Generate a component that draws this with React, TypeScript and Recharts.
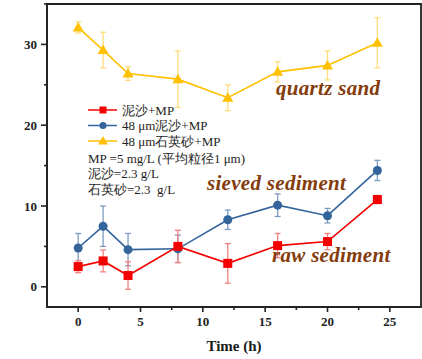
import React from 'react';
import { ComposedChart, Line, XAxis, YAxis, ErrorBar, ReferenceArea } from 'recharts';

const times = [0, 2, 4, 8, 12, 16, 20, 24];
const rawValues = [2.5, 3.2, 1.4, 5.0, 2.9, 5.1, 5.6, 10.8];
const rawErrors = [0.75, 1.35, 1.7, 2.0, 2.45, 1.5, 1.0, 0.5];
const sievedValues = [4.8, 7.5, 4.6, 4.7, 8.3, 10.1, 8.8, 14.4];
const sievedErrors = [1.8, 2.5, 2.0, 1.7, 1.2, 1.4, 0.9, 1.25];
const quartzValues = [32.1, 29.3, 26.4, 25.7, 23.4, 26.6, 27.4, 30.2];
const quartzErrors = [0.7, 2.2, 0.85, 3.5, 1.6, 1.25, 1.8, 3.1];

const xDomain = [-2.5, 27.5];
const yDomain = [-2.5, 35];
const xMajorTicks = [0, 5, 10, 15, 20, 25];
const xMinorTicks = [2.5, 7.5, 12.5, 17.5, 22.5];
const yMajorTicks = [0, 10, 20, 30];
const yMinorTicks = [5, 15, 25, 35];

const seriesNames = ['泥沙+MP', '48 μm泥沙+MP', '48 μm石英砂+MP'];
const noteLines = ['MP =5 mg/L (平均粒径1 μm)', '泥沙=2.3 g/L', '石英砂=2.3  g/L'];
const annotations = ['quartz sand', 'sieved sediment', 'raw sediment'];

const build = (vals: number[], errs: number[]) =>
  times.map((t, i) => ({ x: t, y: vals[i], e: errs[i] }));
const rawData = build(rawValues, rawErrors);
const sievedData = build(sievedValues, sievedErrors);
const quartzData = build(quartzValues, quartzErrors);

const RED = '#f40000';
const BLUE = '#33659c';
const YELLOW = '#ffc000';
const BROWN = '#843c0c';
const AXIS = '#222';
const FONT = '"Liberation Serif", "Times New Roman", serif';

const TICK_SIZE = 5;
const TICK_MARGIN = 3;

const XTick = (props: any) => {
  const { x, y, payload } = props;
  const axisY = y - TICK_SIZE - TICK_MARGIN;
  const major = xMajorTicks.includes(payload.value);
  return (
    <g>
      <line x1={x} x2={x} y1={axisY} y2={axisY + (major ? 5 : 3)} stroke={AXIS} strokeWidth={1.6} />
      {major && (
        <text x={x} y={axisY + 19} textAnchor="middle" fontFamily={FONT} fontWeight="bold" fontSize={13} fill="#222">
          {payload.value}
        </text>
      )}
    </g>
  );
};

const YTick = (props: any) => {
  const { x, y, payload } = props;
  const axisX = x + TICK_SIZE + TICK_MARGIN;
  const major = yMajorTicks.includes(payload.value);
  return (
    <g>
      <line x1={axisX} x2={axisX - (major ? 6 : 3)} y1={y} y2={y} stroke={AXIS} strokeWidth={1.6} />
      {major && (
        <text x={axisX - 10} y={y + 4.5} textAnchor="end" fontFamily={FONT} fontWeight="bold" fontSize={13} fill="#222">
          {payload.value}
        </text>
      )}
    </g>
  );
};

const squareDot = (p: any) => (
  <rect key={`s${p.index}`} x={p.cx - 4.5} y={p.cy - 4.5} width={9} height={9} fill={RED} />
);
const circleDot = (p: any) => (
  <circle key={`c${p.index}`} cx={p.cx} cy={p.cy} r={4.5} fill={BLUE} />
);
const triDot = (p: any) => (
  <polygon
    key={`t${p.index}`}
    points={`${p.cx},${p.cy - 5.5} ${p.cx - 5.5},${p.cy + 4} ${p.cx + 5.5},${p.cy + 4}`}
    fill={YELLOW}
  />
);

const LegendOverlay = () => {
  const rows = [
    { name: seriesNames[0], color: RED, y: 110, shape: 'square' },
    { name: seriesNames[1], color: BLUE, y: 125.5, shape: 'circle' },
    { name: seriesNames[2], color: YELLOW, y: 141, shape: 'tri' },
  ];
  return (
    <svg width={422} height={359} style={{ position: 'absolute', left: 0, top: 0, pointerEvents: 'none' }}>
      {rows.map((r) => (
        <g key={r.name}>
          <line x1={88} x2={117} y1={r.y} y2={r.y} stroke={r.color} strokeWidth={1.5} />
          {r.shape === 'square' && <rect x={99.5} y={r.y - 3.5} width={7} height={7} fill={r.color} />}
          {r.shape === 'circle' && <circle cx={103} cy={r.y} r={3.5} fill={r.color} />}
          {r.shape === 'tri' && (
            <polygon points={`103,${r.y - 5} 98,${r.y + 3.5} 108,${r.y + 3.5}`} fill={r.color} />
          )}
          <text x={122} y={r.y + 4.5} fontFamily={FONT} fontSize={13} fill="#1e1e1e">
            {r.name}
          </text>
        </g>
      ))}
      {noteLines.map((t, i) => (
        <text key={t} x={88} y={[162.5, 177.5, 193.5][i]} fontFamily={FONT} fontSize={13} fill="#1e1e1e" style={{ whiteSpace: 'pre' }}>
          {t}
        </text>
      ))}
      {annotations.map((t, i) => (
        <text
          key={t}
          x={[276, 207, 272][i]}
          y={[95, 190, 262][i]}
          fontFamily={FONT}
          fontWeight="bold"
          fontStyle="italic"
          fontSize={21}
          fill={BROWN}
          letterSpacing={0.3}
        >
          {t}
        </text>
      ))}
    </svg>
  );
};

export default function App() {
  return (
    <div style={{ position: 'absolute', left: 0, top: 0, width: 422, height: 359, background: '#fff' }}>
      <ComposedChart width={422} height={359} margin={{ top: 4, right: 1, bottom: 0, left: 0 }}>
        <XAxis
          xAxisId="main"
          type="number"
          dataKey="x"
          domain={xDomain}
          ticks={[...xMajorTicks, ...xMinorTicks]}
          interval={0}
          allowDataOverflow
          height={52}
          tickSize={TICK_SIZE}
          tickMargin={TICK_MARGIN}
          tickLine={false}
          tick={<XTick />}
          axisLine={{ stroke: AXIS, strokeWidth: 1.8 }}
          label={{ value: 'Time (h)', position: 'insideBottom', offset: 8, style: { fontFamily: FONT, fontWeight: 'bold', fontSize: 15, fill: '#1a1a1a' } }}
        />
        <YAxis
          yAxisId="main"
          type="number"
          domain={yDomain}
          ticks={[...yMajorTicks, ...yMinorTicks]}
          interval={0}
          allowDataOverflow
          width={47}
          tickSize={TICK_SIZE}
          tickMargin={TICK_MARGIN}
          tickLine={false}
          tick={<YTick />}
          axisLine={{ stroke: AXIS, strokeWidth: 1.8 }}
        />
        <ReferenceArea
          xAxisId="main"
          yAxisId="main"
          x1={xDomain[0]}
          x2={xDomain[1]}
          y1={yDomain[0]}
          y2={yDomain[1]}
          fill="none"
          fillOpacity={0}
          stroke={AXIS}
          strokeWidth={1.8}
          ifOverflow="visible"
        />
        <Line
          xAxisId="main"
          yAxisId="main"
          data={quartzData}
          dataKey="y"
          name={seriesNames[2]}
          stroke={YELLOW}
          strokeWidth={1.6}
          dot={triDot}
          isAnimationActive={false}
        >
          <ErrorBar dataKey="e" width={3} stroke="#ffdc7a" strokeWidth={1.3} direction="y" />
        </Line>
        <Line
          xAxisId="main"
          yAxisId="main"
          data={sievedData}
          dataKey="y"
          name={seriesNames[1]}
          stroke={BLUE}
          strokeWidth={1.6}
          dot={circleDot}
          isAnimationActive={false}
        >
          <ErrorBar dataKey="e" width={3} stroke="#7f9cc2" strokeWidth={1.3} direction="y" />
        </Line>
        <Line
          xAxisId="main"
          yAxisId="main"
          data={rawData}
          dataKey="y"
          name={seriesNames[0]}
          stroke={RED}
          strokeWidth={1.6}
          dot={squareDot}
          isAnimationActive={false}
        >
          <ErrorBar dataKey="e" width={3} stroke="#f58080" strokeWidth={1.3} direction="y" />
        </Line>
      </ComposedChart>
      <LegendOverlay />
    </div>
  );
}
